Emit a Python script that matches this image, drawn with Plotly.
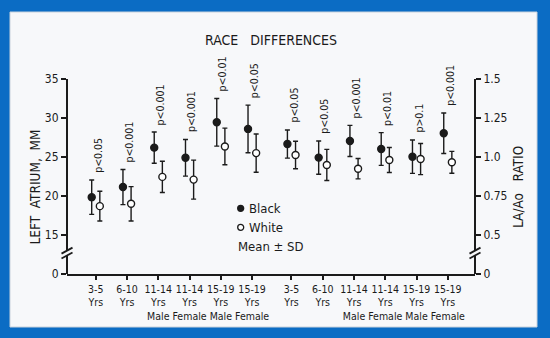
import plotly.graph_objects as go

# ---------------- data ----------------
categories = ["3-5<br>Yrs", "6-10<br>Yrs", "11-14<br>Yrs<br>Male", "11-14<br>Yrs<br>Female",
              "15-19<br>Yrs<br>Male", "15-19<br>Yrs<br>Female"]

la_black_mean = [19.85, 21.15, 26.2, 24.9, 29.45, 28.6]
la_black_sd = [2.2, 2.25, 2.0, 2.35, 3.05, 3.05]
la_white_mean = [18.7, 19.0, 22.45, 22.1, 26.35, 25.5]
la_white_sd = [1.9, 2.2, 2.0, 2.5, 2.35, 2.45]
la_p = ["p<0.05", "p<0.001", "p<0.001", "p<0.001", "p<0.01", "p<0.05"]

ratio_black_mean = [1.083, 0.996, 1.103, 1.051, 1.002, 1.152]
ratio_black_sd = [0.09, 0.107, 0.1, 0.105, 0.107, 0.13]
ratio_white_mean = [1.013, 0.949, 0.925, 0.981, 0.987, 0.966]
ratio_white_sd = [0.088, 0.1, 0.065, 0.08, 0.1, 0.07]
ratio_p = ["p<0.05", "p<0.05", "p<0.001", "p<0.01", "p>0.1", "p<0.001"]

left_ticks = [10, 15, 20, 25, 30, 35]
left_ticktext = ["0", "15", "20", "25", "30", "35"]
right_ticks = [0.25, 0.5, 0.75, 1.0, 1.25, 1.5]
right_ticktext = ["0", "0.5", "0.75", "1.0", "1.25", "1.5"]

# ---------------- layout geometry ----------------
W, H = 550, 338
ML, MR, MT, MB = 67, 75, 79, 64
PW, PH = W - ML - MR, H - MT - MB
GROUP_GAP = 0.26
OFF = 0.13

def px2x(px):
    return (px - ML) / PW

def px2y(py):
    return (H - MB - py) / PH

FONT = "Liberation Sans Narrow, Arial Narrow, DejaVu Sans Condensed, Liberation Sans, Arial"
INK = "#1b1b1b"

n = len(categories)
x_left = list(range(n))
x_right = [n + GROUP_GAP + i for i in range(n)]

fig = go.Figure()

def add_series(xs, means, sds, filled, yaxis):
    fig.add_trace(go.Scatter(
        x=xs, y=means, mode="markers", yaxis=yaxis, showlegend=False, hoverinfo="skip",
        marker=dict(size=7, color=INK if filled else "white",
                    line=dict(color=INK, width=1.4)),
        error_y=dict(type="data", array=sds, visible=True, color=INK,
                     thickness=1.4, width=2.5),
    ))

add_series([x - OFF for x in x_left], la_black_mean, la_black_sd, True, "y")
add_series([x + OFF for x in x_left], la_white_mean, la_white_sd, False, "y")
add_series([x - OFF for x in x_right], ratio_black_mean, ratio_black_sd, True, "y2")
add_series([x + OFF for x in x_right], ratio_white_mean, ratio_white_sd, False, "y2")

annotations = []
for x, m, s, p in zip(x_left, la_black_mean, la_black_sd, la_p):
    annotations.append(dict(x=x + 0.05, y=m + s, xref="x", yref="y", text=p, textangle=-90,
                            showarrow=False, yanchor="bottom", xanchor="center", yshift=5,
                            font=dict(size=10.5, color=INK, family=FONT)))
for x, m, s, p in zip(x_right, ratio_black_mean, ratio_black_sd, ratio_p):
    annotations.append(dict(x=x + 0.05, y=m + s, xref="x", yref="y2", text=p, textangle=-90,
                            showarrow=False, yanchor="bottom", xanchor="center", yshift=5,
                            font=dict(size=10.5, color=INK, family=FONT)))

# axis titles
annotations.append(dict(x=px2x(34), y=px2y(247), xref="paper", yref="paper",
                        text="LEFT\u00a0 ATRIUM,\u00a0 MM", textangle=-90, showarrow=False,
                        xanchor="center", yanchor="bottom",
                        font=dict(size=13.5, color=INK, family=FONT)))
annotations.append(dict(x=px2x(518), y=px2y(230), xref="paper", yref="paper",
                        text="LA/Ao\u00a0\u00a0 RATIO", textangle=-90, showarrow=False,
                        xanchor="center", yanchor="bottom",
                        font=dict(size=13.5, color=INK, family=FONT)))
# legend text
for txt, px, py in [("Black", 247, 208.3), ("White", 247, 227.3), ("Mean \u00b1 SD", 236, 246.7)]:
    annotations.append(dict(x=px2x(px), y=px2y(py), xref="paper", yref="paper", text=txt,
                            showarrow=False, xanchor="left", yanchor="middle",
                            font=dict(size=13, color=INK, family=FONT)))

shapes = []
# white panel inside blue frame
shapes.append(dict(type="rect", xref="paper", yref="paper", layer="below",
                   x0=px2x(10), x1=px2x(537), y0=px2y(327), y1=px2y(12),
                   fillcolor="#f7f8fa", line=dict(color="#c9d2dc", width=1)))

# y axis lines with break
BRK_LO, BRK_HI = 12.37, 13.0
for xa in (0, 1):
    for y0, y1 in ((10, BRK_LO), (BRK_HI, 35)):
        shapes.append(dict(type="line", xref="paper", yref="y", x0=xa, x1=xa, y0=y0, y1=y1,
                           line=dict(color=INK, width=2)))
    for ya in (BRK_LO, BRK_HI):
        shapes.append(dict(type="line", xref="paper", yref="y",
                           xsizemode="pixel", xanchor=xa, x0=-5.5, x1=5.5,
                           ysizemode="pixel", yanchor=ya, y0=-3, y1=3,
                           line=dict(color=INK, width=1.8)))

# legend symbols
for py, fill in [(208.3, INK), (227.3, "white")]:
    shapes.append(dict(type="circle", xref="paper", yref="paper",
                       xsizemode="pixel", xanchor=px2x(240.7), x0=-3, x1=3,
                       ysizemode="pixel", yanchor=px2y(py), y0=-3, y1=3,
                       fillcolor=fill, line=dict(color=INK, width=1.3)))

fig.update_layout(
    width=W, height=H,
    margin=dict(l=ML, r=MR, t=MT, b=MB, pad=0, autoexpand=False),
    paper_bgcolor="#0b6cc4",
    plot_bgcolor="rgba(0,0,0,0)",
    title=dict(text="RACE\u00a0\u00a0 DIFFERENCES", x=271 / W, xanchor="center",
               y=1 - 40 / H, yanchor="middle",
               font=dict(size=14, color=INK, family=FONT)),
    xaxis=dict(range=[-0.92, 2 * n - 1 + GROUP_GAP + 0.87],
               tickvals=x_left + x_right, ticktext=categories + categories,
               tickangle=0, automargin=False,
               showgrid=False, zeroline=False, showline=True, linecolor=INK, linewidth=2,
               ticks="outside", ticklen=4, tickwidth=1.5, tickcolor=INK,
               tickfont=dict(size=10.5, color=INK, family=FONT)),
    yaxis=dict(range=[10, 35], tickvals=left_ticks, ticktext=left_ticktext, automargin=False,
               showgrid=False, zeroline=False, showline=False,
               ticks="outside", ticklen=5, tickwidth=1.5, tickcolor=INK,
               tickfont=dict(size=12, color=INK, family=FONT)),
    yaxis2=dict(range=[0.25, 1.5], tickvals=right_ticks, ticktext=right_ticktext,
                overlaying="y", side="right", automargin=False,
                showgrid=False, zeroline=False, showline=False,
                ticks="outside", ticklen=5, tickwidth=1.5, tickcolor=INK,
                tickfont=dict(size=12, color=INK, family=FONT)),
    annotations=annotations,
    shapes=shapes,
    showlegend=False,
)

fig.write_html("out.html", config={"displayModeBar": False},
               post_script="document.body.style.margin='0';document.body.style.overflow='hidden';")
